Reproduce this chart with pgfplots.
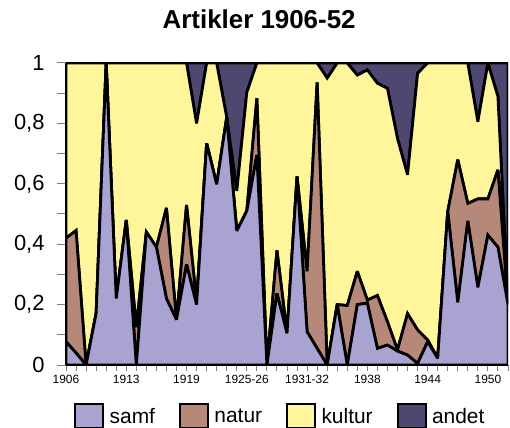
\documentclass[border=0pt]{standalone}
\usepackage{fontspec}
\setmainfont{Liberation Sans}
\usepackage{pgfplots}
\usepackage{pgfplotstable}
\pgfplotsset{compat=1.18}
\definecolor{samf}{HTML}{A9A3D1}
\definecolor{natur}{HTML}{B5887A}
\definecolor{kultur}{HTML}{FFF59A}
\definecolor{andet}{HTML}{4E4870}
\pgfplotstableread{
i s n k a
0 0.077 0.343 0.580 0
1 0.040 0.405 0.555 0
2 0 0 1 0
3 0.171 0 0.829 0
4 1 0 0 0
5 0.220 0 0.780 0
6 0.480 0 0.520 0
7 0 0.125 0.875 0
8 0.440 0 0.560 0
9 0.390 0 0.610 0
10 0.220 0.300 0.480 0
11 0.150 0 0.850 0
12 0.333 0.197 0.470 0
13 0.200 0.010 0.590 0.200
14 0.734 0 0.266 0
15 0.598 0 0.402 0
16 0.820 0 0 0.180
17 0.444 0 0.132 0.424
18 0.510 0 0.393 0.097
19 0.695 0.188 0.117 0
20 0 0 1 0
21 0.237 0.143 0.620 0
22 0.105 0 0.895 0
23 0.624 0 0.376 0
24 0.110 0.200 0.690 0
25 0.055 0.881 0.064 0
26 0 0 0.950 0.050
27 0.200 0 0.800 0
28 0 0.197 0.803 0
29 0.200 0.110 0.650 0.040
30 0.205 0.010 0.762 0.023
31 0.055 0.175 0.703 0.067
32 0.066 0.077 0.773 0.084
33 0.046 0.004 0.700 0.250
34 0.033 0.137 0.460 0.370
35 0.005 0.111 0.850 0.034
36 0.077 0.006 0.917 0
37 0.022 0 0.978 0
38 0.508 0 0.492 0
39 0.207 0.473 0.320 0
40 0.477 0.058 0.465 0
41 0.257 0.293 0.256 0.194
42 0.430 0.120 0.450 0
43 0.390 0.256 0.243 0.111
44 0.200 0 0 0.800
}\data
\begin{document}
\begin{tikzpicture}
\useasboundingbox (0,0) rectangle (510bp,428bp);
\begin{axis}[
  at={(66bp,63bp)}, anchor=south west,
  scale only axis, width=442bp, height=302bp,
  xmin=0, xmax=44, ymin=0, ymax=1,
  stack plots=y,
  axis x line=bottom, axis y line=left,
  axis line style={-, line width=1.2bp},
  axis on top,
  tick align=outside,
  major tick length=9bp, minor tick length=9bp,
  ytick={0,0.2,0.4,0.6,0.8,1},
  minor ytick={0.1,0.3,0.5,0.7,0.9},
  /pgf/number format/use comma,
  /pgf/number format/fixed,
  /pgf/number format/assume math mode=true,
  yticklabel style={font=\fontsize{22}{26}\selectfont, xshift=-9bp},
  ytick style={line width=1bp},
  minor tick style={line width=1bp},
  xtick={0,...,44},
  xticklabels={1906,,,,,,1913,,,,,,1919,,,,,,1925-26,,,,,,1931-32,,,,,,1938,,,,,,1944,,,,,,1950,,},
  xtick style={/pgfplots/major tick length=6bp, line width=1bp},
  xticklabel style={font=\fontsize{12}{14}\selectfont, yshift=2bp},
  title={Artikler 1906-52},
  title style={at={(0.437,1)}, anchor=center, yshift=38bp, font=\bfseries\fontsize{26}{30}\selectfont},
  legend columns=4,
  legend style={draw=none, fill=none, at={(0.485,-0.168)}, anchor=center,
    font=\fontsize{21}{25}\selectfont,
    /tikz/every even column/.append style={column sep=22bp}},
  legend image code/.code={\draw[#1, line width=2bp] (0bp,-11bp) rectangle (28bp,13bp); \path (31bp,0bp);},
]
\addplot[fill=samf, draw=black, line width=2.8bp, line join=miter, miter limit=3] table[x=i, y=s]{\data} \closedcycle;
\addplot[fill=natur, draw=black, line width=2.8bp, line join=miter, miter limit=3] table[x=i, y=n]{\data} \closedcycle;
\addplot[fill=kultur, draw=black, line width=2.8bp, line join=miter, miter limit=3] table[x=i, y=k]{\data} \closedcycle;
\addplot[fill=andet, draw=black, line width=2.8bp, line join=miter, miter limit=3] table[x=i, y=a]{\data} \closedcycle;
\legend{samf, natur, kultur, andet}
\end{axis}
\end{tikzpicture}
\end{document}
